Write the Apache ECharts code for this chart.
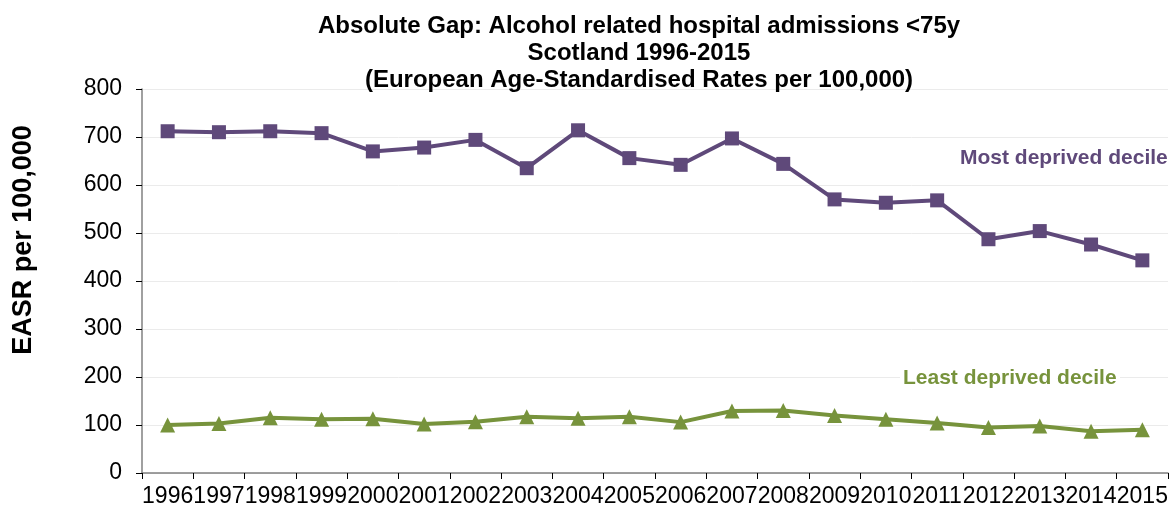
<!DOCTYPE html>
<html>
<head>
<meta charset="utf-8">
<script src="https://cdn.jsdelivr.net/npm/echarts@6/dist/echarts.min.js"></script>
<style>
  html, body { margin: 0; padding: 0; background: #fff; }
  #chart { width: 1173px; height: 509px; }
</style>
</head>
<body>
<div id="chart"></div>
<script>
// years on the x axis
const years = ['1996', '1997', '1998', '1999', '2000', '2001', '2002', '2003', '2004', '2005',
  '2006', '2007', '2008', '2009', '2010', '2011', '2012', '2013', '2014', '2015'];
// EASR per 100,000
const mostDeprived = [712, 710, 712, 708, 670, 678, 694, 635, 714, 656,
  642, 697, 644, 570, 563, 568, 487, 504, 476, 443];
const leastDeprived = [100, 103, 115, 112, 113, 102, 107, 117, 114, 117,
  106, 129, 130, 120, 112, 104, 95, 98, 87, 90];

const font = 'Liberation Sans, Arial, sans-serif';
const purple = '#5f497a';
const green = '#77933c';

const chart = echarts.init(document.getElementById('chart'));
chart.setOption({
  animation: false,
  textStyle: { fontFamily: font },
  title: {
    text: 'Absolute Gap: Alcohol related hospital admissions <75y\nScotland 1996-2015\n(European Age-Standardised Rates per 100,000)',
    left: 634,
    top: 8,
    textAlign: 'center',
    textStyle: { fontSize: 24, fontWeight: 'bold', color: '#000', lineHeight: 27, fontFamily: font }
  },
  grid: { left: 142, right: 5, top: 89, bottom: 36, containLabel: false },
  xAxis: {
    type: 'category',
    data: years,
    boundaryGap: true,
    axisLine: { lineStyle: { color: '#808080', width: 1.5 } },
    axisTick: { show: true, length: 6, lineStyle: { color: '#000' } },
    axisLabel: { color: '#000', fontSize: 23, margin: 12, interval: 0 }
  },
  yAxis: {
    type: 'value',
    min: 0,
    max: 800,
    interval: 100,
    axisLine: { show: true, lineStyle: { color: '#808080', width: 1.5 } },
    axisTick: { show: true, length: 6, lineStyle: { color: '#000' } },
    axisLabel: { color: '#000', fontSize: 23, margin: 20 },
    splitLine: { lineStyle: { color: '#ebebeb' } }
  },
  series: [
    {
      name: 'Most deprived decile',
      type: 'line',
      data: mostDeprived,
      symbol: 'rect',
      symbolSize: 14,
      lineStyle: { color: purple, width: 4 },
      itemStyle: { color: purple }
    },
    {
      name: 'Least deprived decile',
      type: 'line',
      data: leastDeprived,
      symbol: 'triangle',
      symbolSize: 15,
      lineStyle: { color: green, width: 4 },
      itemStyle: { color: green }
    }
  ],
  graphic: [
    {
      type: 'text', x: 24, y: 240, rotation: Math.PI / 2,
      style: {
        text: 'EASR per 100,000', fill: '#000', font: 'bold 27px ' + font,
        align: 'center', verticalAlign: 'middle'
      }
    },
    {
      type: 'text', left: 960, top: 148, z: 100,
      style: { text: 'Most deprived decile', fill: purple, font: 'bold 21px ' + font }
    },
    // white box so the gridline does not run through the label
    {
      type: 'rect', z: 99, shape: { x: 900, y: 369, width: 220, height: 20 },
      style: { fill: '#fff' }
    },
    {
      type: 'text', left: 903, top: 368, z: 100,
      style: { text: 'Least deprived decile', fill: green, font: 'bold 21px ' + font }
    }
  ]
});
</script>
</body>
</html>
